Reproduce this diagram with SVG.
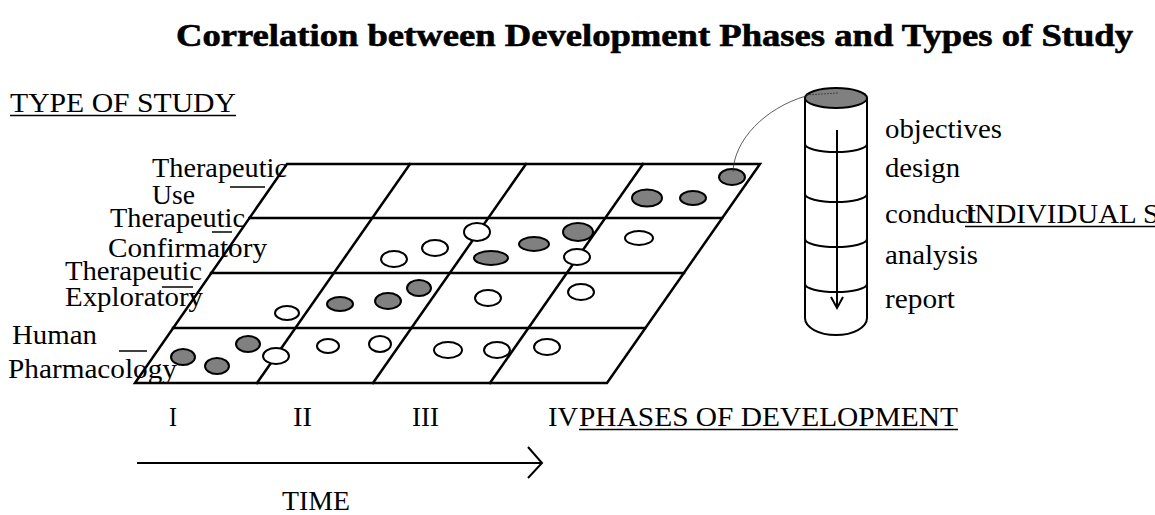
<svg xmlns="http://www.w3.org/2000/svg" width="1155" height="515" viewBox="0 0 1155 515">
<style>
text{font-family:"Liberation Serif","Times New Roman",serif;font-size:27px;fill:#000}
.title{font-weight:bold;font-size:31px;stroke:#000;stroke-width:0.6}
.g{stroke:#000;stroke-width:2.5;fill:none;stroke-linecap:square}
.ln{stroke:#000;stroke-width:2;fill:none}
.ul{stroke:#000;stroke-width:1.5}
.on{fill:#808080;stroke:#000;stroke-width:2}
.off{fill:#fff;stroke:#000;stroke-width:2}
.thin{stroke:#333;stroke-width:0.8;fill:none}
</style>
<rect width="1155" height="515" fill="#fff"/>
<g id="title"><text class="title" x="176" y="46" textLength="957" lengthAdjust="spacingAndGlyphs">Correlation between Development Phases and Types of Study</text></g>
<g id="type-of-study"><text x="10" y="112" textLength="226" lengthAdjust="spacingAndGlyphs">TYPE OF STUDY</text><line class="ul" x1="10" y1="115.5" x2="236" y2="115.5"/></g>
<g id="grid">
<path class="g" d="M287,164 L760,164 L607,383 L135,383 Z"/>
<line class="g" x1="249.5" y1="218" x2="722" y2="218"/>
<line class="g" x1="211" y1="273" x2="684" y2="273"/>
<line class="g" x1="173" y1="328" x2="645" y2="328"/>
<line class="g" x1="410" y1="164" x2="257" y2="383"/>
<line class="g" x1="526" y1="164" x2="373" y2="383"/>
<line class="g" x1="643" y1="164" x2="490" y2="383"/>
</g>
<g id="row-labels">
<text x="152" y="177" textLength="135" lengthAdjust="spacingAndGlyphs">Therapeutic</text>
<text x="152" y="204" textLength="43" lengthAdjust="spacingAndGlyphs">Use</text>
<line class="ul" x1="230" y1="187" x2="265" y2="187"/>
<text x="110" y="227" textLength="135" lengthAdjust="spacingAndGlyphs">Therapeutic</text>
<text x="108" y="257" textLength="159" lengthAdjust="spacingAndGlyphs">Confirmatory</text>
<line class="ul" x1="212" y1="232" x2="232" y2="232"/>
<text x="65" y="280" textLength="137" lengthAdjust="spacingAndGlyphs">Therapeutic</text>
<text x="65" y="306" textLength="138" lengthAdjust="spacingAndGlyphs">Exploratory</text>
<line class="ul" x1="162" y1="287" x2="193" y2="287"/>
<text x="12" y="344" textLength="85" lengthAdjust="spacingAndGlyphs">Human</text>
<text x="8" y="378" textLength="169" lengthAdjust="spacingAndGlyphs">Pharmacology</text>
<line class="ul" x1="119" y1="351" x2="147" y2="351"/>
</g>
<g id="studies">
<ellipse class="on" cx="732" cy="177" rx="13" ry="8"/>
<ellipse class="on" cx="647" cy="198" rx="15" ry="8.5"/>
<ellipse class="on" cx="693" cy="198" rx="13" ry="7"/>
<ellipse class="off" cx="477" cy="232" rx="13" ry="9"/>
<ellipse class="on" cx="578" cy="232" rx="15" ry="9"/>
<ellipse class="on" cx="534" cy="244" rx="15" ry="7"/>
<ellipse class="off" cx="435" cy="248" rx="13" ry="8"/>
<ellipse class="off" cx="394" cy="259" rx="13" ry="8"/>
<ellipse class="on" cx="491" cy="258" rx="17" ry="7"/>
<ellipse class="off" cx="577" cy="257" rx="13" ry="8"/>
<ellipse class="off" cx="639" cy="238" rx="14" ry="7"/>
<ellipse class="off" cx="287" cy="313" rx="12" ry="7"/>
<ellipse class="on" cx="340" cy="304" rx="13" ry="7"/>
<ellipse class="on" cx="388" cy="301" rx="13" ry="8"/>
<ellipse class="on" cx="419" cy="288" rx="12" ry="8"/>
<ellipse class="off" cx="488" cy="298" rx="13" ry="8"/>
<ellipse class="off" cx="581" cy="292" rx="13" ry="8"/>
<ellipse class="on" cx="183" cy="357" rx="12" ry="8"/>
<ellipse class="on" cx="217" cy="366" rx="12" ry="8"/>
<ellipse class="on" cx="248" cy="344" rx="12" ry="8"/>
<ellipse class="off" cx="276" cy="356" rx="13" ry="8"/>
<ellipse class="off" cx="328" cy="346" rx="11" ry="7"/>
<ellipse class="off" cx="380" cy="344" rx="11" ry="8"/>
<ellipse class="off" cx="448" cy="350" rx="14" ry="8"/>
<ellipse class="off" cx="497" cy="350" rx="13" ry="8"/>
<ellipse class="off" cx="547" cy="347" rx="13" ry="8"/>
</g>
<g id="individual-study">
<path class="ln" d="M805,98 L805,318 A31,17 0 0 0 867,318 L867,98"/>
<path class="ln" d="M805,144 A31,8 0 0 0 867,144"/>
<path class="ln" d="M805,194 A31,8 0 0 0 867,194"/>
<path class="ln" d="M805,239 A31,8 0 0 0 867,239"/>
<path class="ln" d="M805,284 A31,8 0 0 0 867,284"/>
<ellipse class="on" cx="836" cy="98" rx="31" ry="10"/>
<line class="ln" x1="837" y1="130" x2="837" y2="307"/>
<polyline class="ln" points="831,297 837,308 843,297"/>
<text x="885" y="138" textLength="117" lengthAdjust="spacingAndGlyphs">objectives</text>
<text x="885" y="177" textLength="75" lengthAdjust="spacingAndGlyphs">design</text>
<text x="885" y="223" textLength="91" lengthAdjust="spacingAndGlyphs">conduct</text>
<text x="885" y="264" textLength="93" lengthAdjust="spacingAndGlyphs">analysis</text>
<text x="885" y="308" textLength="70" lengthAdjust="spacingAndGlyphs">report</text>
<text x="965" y="223" textLength="194" lengthAdjust="spacingAndGlyphs">INDIVIDUAL S</text>
<line class="ul" x1="965" y1="226.5" x2="1155" y2="226.5"/>
</g>
<g id="phases">
<text x="169" y="426" textLength="8" lengthAdjust="spacingAndGlyphs">I</text>
<text x="293" y="426" textLength="19" lengthAdjust="spacingAndGlyphs">II</text>
<text x="412" y="426" textLength="27" lengthAdjust="spacingAndGlyphs">III</text>
<text x="548" y="426" textLength="30" lengthAdjust="spacingAndGlyphs">IV</text>
<text x="579" y="426" textLength="379" lengthAdjust="spacingAndGlyphs">PHASES OF DEVELOPMENT</text>
<line class="ul" x1="579" y1="429.5" x2="958" y2="429.5"/>
<text x="282" y="510" textLength="68" lengthAdjust="spacingAndGlyphs">TIME</text>
</g>
<g id="connectors">
<path class="thin" d="M733,172 C734,140 765,108 806,96"/>
<path class="thin" stroke-dasharray="2,1" d="M806,95 L838,93"/>
<line class="ln" x1="137" y1="463" x2="541" y2="463"/>
<polyline class="ln" points="528,447 542,463 528,478"/>
</g>
</svg>
